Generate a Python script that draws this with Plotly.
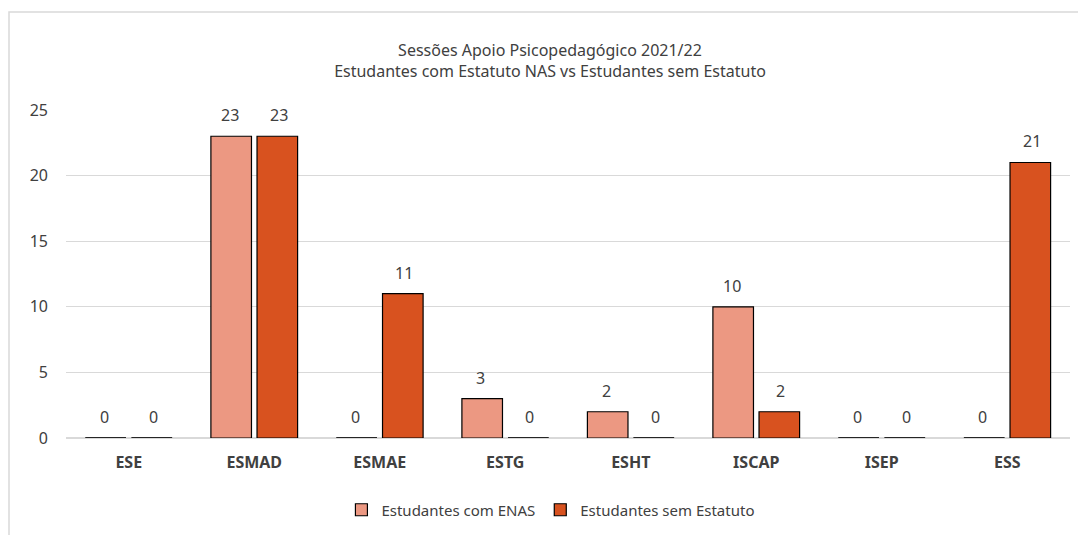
import plotly.graph_objects as go

categories = ["ESE", "ESMAD", "ESMAE", "ESTG", "ESHT", "ISCAP", "ISEP", "ESS"]
com_enas = [0, 23, 0, 3, 2, 10, 0, 0]
sem_estatuto = [0, 23, 11, 0, 0, 2, 0, 21]
series_names = ["Estudantes com ENAS", "Estudantes sem Estatuto"]
title_lines = ["Sessões Apoio Psicopedagógico 2021/22",
               "Estudantes com Estatuto NAS vs Estudantes sem Estatuto"]

FONT = "Noto Sans"
TXT = "#404040"
col1 = "#EC9882"
col2 = "#D8521F"

# page body has an 8px margin: figure coordinates are offset by (8, 8)
W, H = 1078, 527
L, R, T, B = 58, 16, 102, 97
PH = H - T - B  # plot height in px

fig = go.Figure()
for name, vals, col, grp in [(series_names[0], com_enas, col1, "a"),
                             (series_names[1], sem_estatuto, col2, "b")]:
    fig.add_trace(go.Bar(
        x=categories, y=vals, name=name, offsetgroup=grp,
        marker=dict(color=col, line=dict(color="#000000", width=1.2)),
    ))
    # thin outline for zero-valued bars
    fig.add_trace(go.Bar(
        x=categories,
        y=[0.16 if v == 0 else None for v in vals],
        base=[-0.08 if v == 0 else None for v in vals],
        offsetgroup=grp, showlegend=False, hoverinfo="skip",
        marker=dict(color="#262626", line=dict(width=0)),
    ))

# value labels
for vals, shift in [(com_enas, -24.5), (sem_estatuto, 24.5)]:
    for c, v in zip(categories, vals):
        fig.add_annotation(x=c, y=v, text=str(v), showarrow=False,
                           xshift=shift, yshift=21,
                           font=dict(family=FONT, size=16, color=TXT))

fig.update_layout(
    width=W, height=H,
    paper_bgcolor="white", plot_bgcolor="white",
    margin=dict(l=L, r=R, t=T, b=B, autoexpand=False),
    barmode="group", bargap=0.265, bargroupgap=0.12,
    font=dict(family=FONT, color=TXT),
    title=dict(text=title_lines[0] + "<br>" + title_lines[1],
               x=542 / W, xanchor="center", xref="container",
               y=1 - 48 / H, yanchor="middle", yref="container",
               font=dict(family=FONT, size=16, color=TXT)),
    legend=dict(orientation="h", x=0.483, xanchor="center", y=-72 / PH,
                yanchor="middle", font=dict(family=FONT, size=15, color=TXT),
                itemwidth=30, traceorder="normal"),
    xaxis=dict(showgrid=False, showline=False, ticks="", automargin=False,
               ticklabelstandoff=13,
               tickfont=dict(family=FONT, size=16, color=TXT, weight="bold")),
    yaxis=dict(range=[0, 25], dtick=5, showgrid=True, gridcolor="#D9D9D9",
               gridwidth=1, zeroline=True, zerolinecolor="#D9D9D9",
               zerolinewidth=1.5, ticks="", ticklabelstandoff=17, automargin=False,
               tickfont=dict(family=FONT, size=16, color=TXT)),
    shapes=[dict(type="rect", xref="paper", yref="paper",
                 x0=(1 - L) / (W - L - R), x1=1.05, y0=-0.4, y1=(PH + T - 4) / PH,
                 line=dict(color="#D9D9D9", width=1.5), fillcolor="rgba(0,0,0,0)",
                 layer="below")],
)

fig.write_html("out.html")
